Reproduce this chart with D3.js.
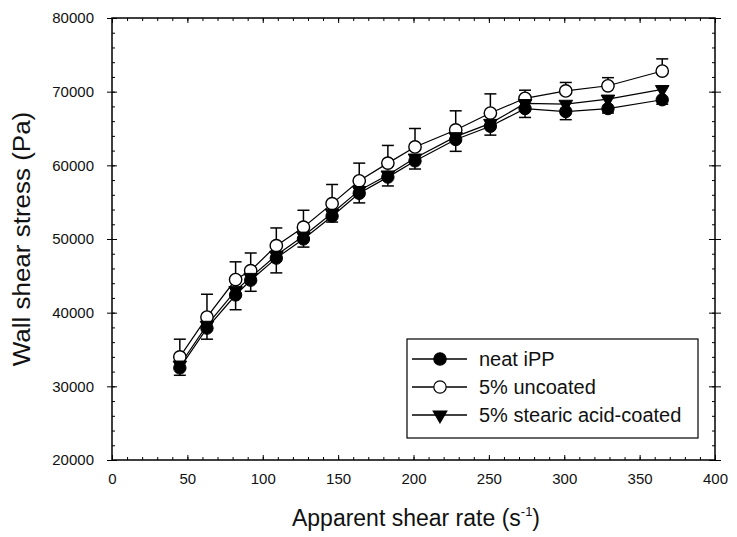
<!DOCTYPE html>
<html>
<head>
<meta charset="utf-8">
<script src="https://cdn.jsdelivr.net/npm/d3@7"></script>
<style>
	body { margin: 0; background: #fff; }
	svg { display: block; font-family: 'Liberation Sans', Arial, sans-serif; }
</style>
</head>
<body>
<div id="chart"></div>
<script>
// values
const shearRate = [45, 63, 82, 92, 109, 127, 146, 164, 183, 201, 228, 251, 274, 301, 329, 365];
const neatIPP = [32500, 37900, 42400, 44400, 47400, 50000, 53100, 56200, 58400, 60600, 63500, 65300, 67700, 67300, 67700, 68900];
const neatErr = [1000, 1500, 2000, 1500, 2000, 1100, 800, 1300, 1200, 1100, 1600, 1200, 1200, 1100, 600, 600];
const uncoated = [34000, 39400, 44500, 45700, 49100, 51600, 54800, 57900, 60300, 62500, 64800, 67100, 69100, 70100, 70800, 72800];
const uncoatedErr = [2400, 3100, 2400, 2400, 2400, 2300, 2600, 2400, 2400, 2500, 2600, 2600, 1100, 1150, 1100, 1650];
const stearic = [32900, 38300, 43000, 44800, 47800, 50400, 53500, 56600, 58700, 61000, 63900, 65700, 68400, 68300, 69000, 70300];

const xTicks = [0, 50, 100, 150, 200, 250, 300, 350, 400];
const yTicks = [20000, 30000, 40000, 50000, 60000, 70000, 80000];
const legendLabels = ['neat iPP', '5% uncoated', '5% stearic acid-coated'];

const W = 737;
const H = 537;
const margin = { top: 18, right: 22, bottom: 77, left: 112 };

const svg = d3.select('#chart').append('svg').attr('width', W).attr('height', H);

const xScale = d3.scaleLinear().domain([0, 400]).range([margin.left, W - margin.right]);
const yScale = d3.scaleLinear().domain([20000, 80000]).range([H - margin.bottom, margin.top]);

const x0 = xScale(0), x1 = xScale(400), y0 = yScale(20000), y1 = yScale(80000);

const minorX = d3.range(0, 401, 10);
const minorY = d3.range(20000, 80001, 2000);

// tick layers (no labels)
const tickLayer = (axis, transform) => {
	const g = svg.append('g').attr('transform', transform).call(axis);
	g.select('.domain').remove();
	g.selectAll('line').attr('stroke', '#000').attr('stroke-width', 1);
	return g;
};

// bottom: inside ticks pointing up
tickLayer(d3.axisTop(xScale).tickValues(minorX).tickSize(3).tickFormat(''), `translate(0,${y0})`);
tickLayer(d3.axisTop(xScale).tickValues(xTicks).tickSize(5).tickFormat(''), `translate(0,${y0})`);
// top: inside ticks pointing down
tickLayer(d3.axisBottom(xScale).tickValues(minorX).tickSize(3).tickFormat(''), `translate(0,${y1})`);
tickLayer(d3.axisBottom(xScale).tickValues(xTicks).tickSize(5).tickFormat(''), `translate(0,${y1})`);
// left: minor inside, major crossing
tickLayer(d3.axisRight(yScale).tickValues(minorY).tickSize(3).tickFormat(''), `translate(${x0},0)`);
tickLayer(d3.axisRight(yScale).tickValues(yTicks).tickSize(5).tickFormat(''), `translate(${x0},0)`);
tickLayer(d3.axisLeft(yScale).tickValues(yTicks).tickSize(5).tickFormat(''), `translate(${x0},0)`);
// right: minor inside, major crossing
tickLayer(d3.axisLeft(yScale).tickValues(minorY).tickSize(3).tickFormat(''), `translate(${x1},0)`);
tickLayer(d3.axisLeft(yScale).tickValues(yTicks).tickSize(6).tickFormat(''), `translate(${x1},0)`);
tickLayer(d3.axisRight(yScale).tickValues(yTicks).tickSize(6).tickFormat(''), `translate(${x1},0)`);

// frame
svg.append('rect')
	.attr('x', x0).attr('y', y1)
	.attr('width', x1 - x0).attr('height', y0 - y1)
	.attr('fill', 'none').attr('stroke', '#000').attr('stroke-width', 1.5);

// tick labels
const xLab = svg.append('g')
	.attr('transform', `translate(0,${y0})`)
	.call(d3.axisBottom(xScale).tickValues(xTicks).tickSize(0).tickPadding(13).tickFormat(d3.format('d')));
xLab.select('.domain').remove();
xLab.selectAll('text').attr('font-size', 15).attr('font-family', 'Liberation Sans, Arial, sans-serif').attr('fill', '#111');

const yLab = svg.append('g')
	.attr('transform', `translate(${x0},0)`)
	.call(d3.axisLeft(yScale).tickValues(yTicks).tickSize(0).tickPadding(18).tickFormat(d3.format('d')));
yLab.select('.domain').remove();
yLab.selectAll('text').attr('font-size', 15).attr('font-family', 'Liberation Sans, Arial, sans-serif').attr('fill', '#111');

// axis titles
const xTitle = svg.append('text')
	.attr('x', 416).attr('y', 526)
	.attr('text-anchor', 'middle')
	.attr('font-size', 23)
	.attr('fill', '#111');
xTitle.append('tspan').text('Apparent shear rate (s');
xTitle.append('tspan').attr('font-size', 13).attr('dy', -10).text('-1');
xTitle.append('tspan').attr('dy', 10).text(')');

svg.append('text')
	.attr('transform', `translate(30,${(y0 + y1) / 2}) rotate(-90) scale(1.13,1)`)
	.attr('text-anchor', 'middle')
	.attr('font-size', 23)
	.attr('fill', '#111')
	.text('Wall shear stress (Pa)');

const pts = (vals) => shearRate.map((x, i) => ({ x, y: vals[i], i }));

const line = d3.line().x((d) => xScale(d.x)).y((d) => yScale(d.y));

const plot = svg.append('g');

[uncoated, neatIPP, stearic].forEach((vals) => {
	plot.append('path')
		.datum(pts(vals))
		.attr('d', line)
		.attr('fill', 'none')
		.attr('stroke', '#000')
		.attr('stroke-width', 1.2);
});

// error bars: uncoated up, neat down
const errBars = (vals, errs, dir) => {
	const g = plot.append('g');
	pts(vals).forEach((d) => {
		const ye = yScale(d.y + dir * errs[d.i]);
		const xc = xScale(d.x);
		g.append('line').attr('x1', xc).attr('x2', xc).attr('y1', yScale(d.y)).attr('y2', ye)
			.attr('stroke', '#000').attr('stroke-width', 1.5);
		g.append('line').attr('x1', xc - 6).attr('x2', xc + 6).attr('y1', ye).attr('y2', ye)
			.attr('stroke', '#000').attr('stroke-width', 1.5);
	});
};
errBars(uncoated, uncoatedErr, 1);
errBars(neatIPP, neatErr, -1);

const circleSym = d3.symbol().type(d3.symbolCircle).size(120);
const triSym = d3.symbol().type(d3.symbolTriangle).size(80);

// markers
plot.append('g').selectAll('path').data(pts(uncoated)).join('path')
	.attr('d', circleSym)
	.attr('transform', (d) => `translate(${xScale(d.x)},${yScale(d.y)})`)
	.attr('fill', '#fff').attr('stroke', '#000').attr('stroke-width', 1.4);

plot.append('g').selectAll('path').data(pts(neatIPP)).join('path')
	.attr('d', circleSym)
	.attr('transform', (d) => `translate(${xScale(d.x)},${yScale(d.y)})`)
	.attr('fill', '#000').attr('stroke', '#000').attr('stroke-width', 1);

plot.append('g').selectAll('path').data(pts(stearic)).join('path')
	.attr('d', triSym)
	.attr('transform', (d) => `translate(${xScale(d.x)},${yScale(d.y)}) rotate(180)`)
	.attr('fill', '#000').attr('stroke', '#000').attr('stroke-width', 1);

// legend
const legend = svg.append('g').attr('transform', 'translate(407,339)');
legend.append('rect')
	.attr('width', 291).attr('height', 99)
	.attr('fill', '#fff').attr('stroke', '#000').attr('stroke-width', 1.2);

const legendSyms = [
	{ sym: circleSym, fill: '#000', rot: 0 },
	{ sym: circleSym, fill: '#fff', rot: 0 },
	{ sym: triSym, fill: '#000', rot: 180 }
];

legendLabels.forEach((label, i) => {
	const row = legend.append('g').attr('transform', `translate(0,${20 + i * 28})`);
	row.append('line').attr('x1', 5).attr('x2', 60)
		.attr('stroke', '#000').attr('stroke-width', 1.3);
	row.append('path')
		.attr('d', legendSyms[i].sym)
		.attr('transform', `translate(33,0) rotate(${legendSyms[i].rot})`)
		.attr('fill', legendSyms[i].fill).attr('stroke', '#000').attr('stroke-width', 1.2);
	row.append('text')
		.attr('x', 72).attr('dy', '0.35em')
		.attr('font-size', 20)
		.attr('fill', '#111')
		.text(label);
});
</script>
</body>
</html>
